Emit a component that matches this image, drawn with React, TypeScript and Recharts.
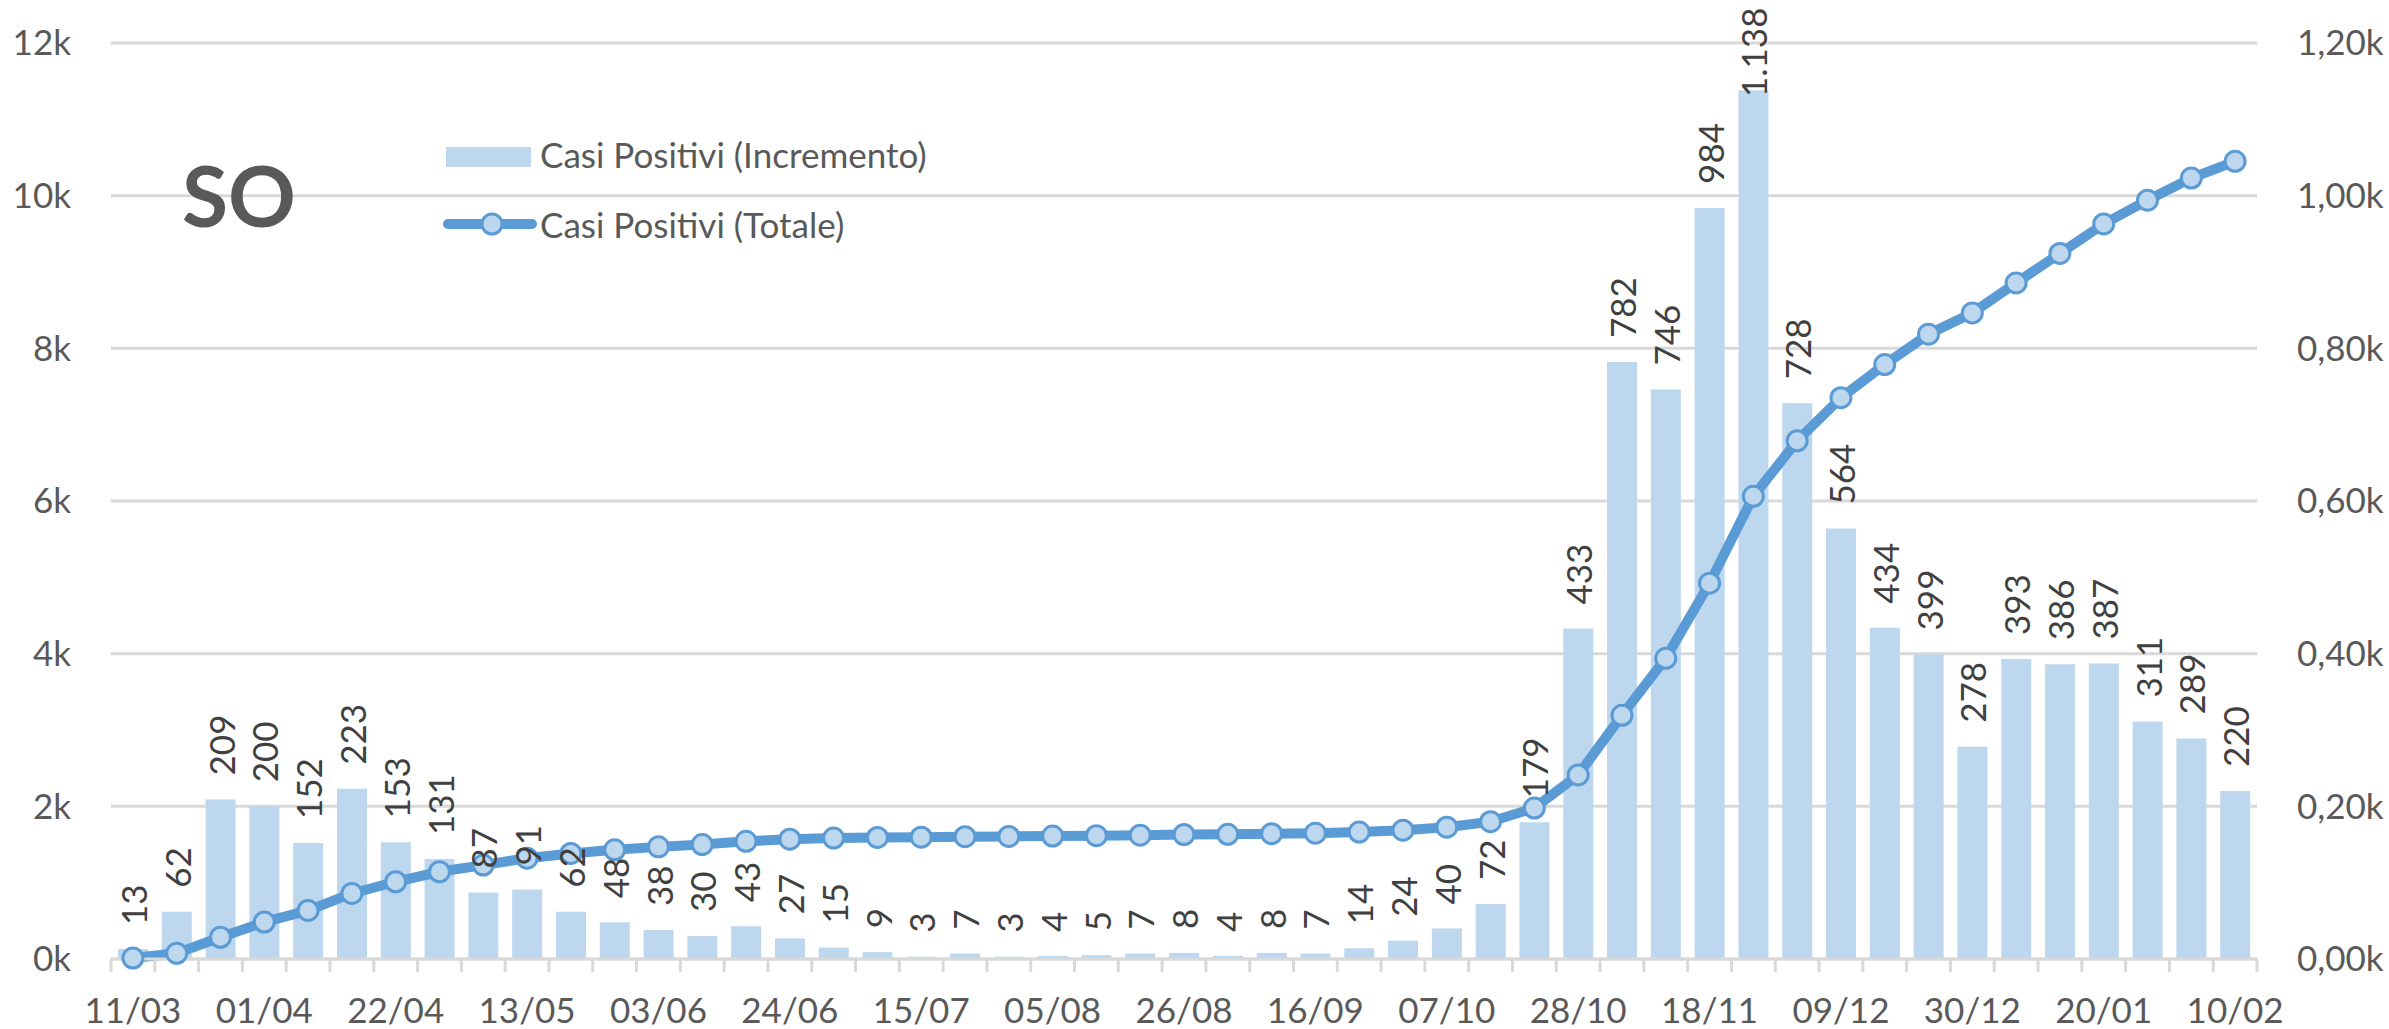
import React from 'react';
import { ComposedChart, Bar, Line, XAxis, YAxis, CartesianGrid, LabelList, Legend } from 'recharts';

// weekly points, 11/03 -> 10/02
const weeks = [
  '11/03', '18/03', '25/03', '01/04', '08/04', '15/04', '22/04', '29/04', '06/05', '13/05',
  '20/05', '27/05', '03/06', '10/06', '17/06', '24/06', '01/07', '08/07', '15/07', '22/07',
  '29/07', '05/08', '12/08', '19/08', '26/08', '02/09', '09/09', '16/09', '23/09', '30/09',
  '07/10', '14/10', '21/10', '28/10', '04/11', '11/11', '18/11', '25/11', '02/12', '09/12',
  '16/12', '23/12', '30/12', '06/01', '13/01', '20/01', '27/01', '03/02', '10/02',
];

const increments = [
  13, 62, 209, 200, 152, 223, 153, 131, 87, 91,
  62, 48, 38, 30, 43, 27, 15, 9, 3, 7,
  3, 4, 5, 7, 8, 4, 8, 7, 14, 24,
  40, 72, 179, 433, 782, 746, 984, 1138, 728, 564,
  434, 399, 278, 393, 386, 387, 311, 289, 220,
];

const totals = [
  13, 75, 284, 484, 636, 859, 1012, 1143, 1230, 1321,
  1383, 1431, 1469, 1499, 1542, 1569, 1584, 1593, 1596, 1603,
  1606, 1610, 1615, 1622, 1630, 1634, 1642, 1649, 1663, 1687,
  1727, 1799, 1978, 2411, 3193, 3939, 4923, 6061, 6789, 7353,
  7787, 8186, 8464, 8857, 9243, 9630, 9941, 10230, 10450,
];

const leftTicks = [0, 2000, 4000, 6000, 8000, 10000, 12000];
const rightTicks = [0, 200, 400, 600, 800, 1000, 1200];

const W = 2389;
const H = 1029;
const PLOT_LEFT = 111;
const PLOT_RIGHT = 2257;
const PLOT_TOP = 43;
const BAND = (PLOT_RIGHT - PLOT_LEFT) / weeks.length;

const FONT = 'Lato, "Open Sans", sans-serif';
const GREY = '#d9d9d9';
const TEXT = '#595959';
const BAR = '#bdd7ee';
const LINE = '#5b9bd5';

const data = weeks.map((w, i) => ({ week: w, inc: increments[i], tot: totals[i] }));

const dots = (v: number) => String(v).replace(/\B(?=(\d{3})+(?!\d))/g, '.');

function BarLabel(props: any) {
  const { x, y, width, value } = props;
  const text = dots(value);
  const cx = x + width / 2;
  // keep the tallest label inside the chart, like Excel does
  const base = Math.max(y - 24, 12 + text.length * 17);
  return (
    <text
      x={cx}
      y={base}
      transform={`rotate(-90 ${cx} ${base})`}
      textAnchor="start"
      dominantBaseline="central"
      fontSize={35}
      fontFamily={FONT}
      fill="#404040"
    >
      {text}
    </text>
  );
}

function WeekTick(props: any) {
  const { x, y, payload, index } = props;
  const left = x - BAND / 2;
  const last = index === weeks.length - 1;
  return (
    <g>
      <line x1={left} y1={y} x2={left} y2={y + 13} stroke={GREY} strokeWidth={3} />
      {last && <line x1={x + BAND / 2} y1={y} x2={x + BAND / 2} y2={y + 13} stroke={GREY} strokeWidth={3} />}
      {index % 3 === 0 && (
        <text x={x} y={y + 64} textAnchor="middle" fontSize={35} fontFamily={FONT} fill={TEXT}>
          {payload.value}
        </text>
      )}
    </g>
  );
}

function LegendBox() {
  const row: React.CSSProperties = { display: 'flex', alignItems: 'center', height: 70 };
  return (
    <div style={{ fontFamily: FONT, fontSize: 35, color: TEXT, whiteSpace: 'nowrap' }}>
      <div style={row}>
        <svg width={97} height={70}>
          <rect x={3} y={28} width={85} height={20} fill={BAR} />
        </svg>
        <span>Casi Positivi (Incremento)</span>
      </div>
      <div style={row}>
        <svg width={97} height={70}>
          <line x1={5} y1={35} x2={89} y2={35} stroke={LINE} strokeWidth={10} strokeLinecap="round" />
          <circle cx={49} cy={35} r={10} fill={BAR} stroke={LINE} strokeWidth={3} />
        </svg>
        <span>Casi Positivi (Totale)</span>
      </div>
    </div>
  );
}

export default function App() {
  return (
    <div style={{ position: 'absolute', left: 0, top: 0, width: W, height: H, background: '#fff' }}>
      <ComposedChart
        width={W}
        height={H}
        data={data}
        margin={{ top: PLOT_TOP, right: 0, bottom: 0, left: 0 }}
        barCategoryGap="16%"
      >
        <CartesianGrid yAxisId="left" vertical={false} stroke={GREY} strokeWidth={3} />
        <XAxis
          dataKey="week"
          height={70}
          interval={0}
          tickLine={false}
          tickSize={0}
          tickMargin={0}
          axisLine={{ stroke: GREY, strokeWidth: 3 }}
          tick={<WeekTick />}
        />
        <YAxis
          yAxisId="left"
          domain={[0, 12000]}
          ticks={leftTicks}
          width={PLOT_LEFT}
          axisLine={false}
          tickLine={false}
          tickSize={0}
          tickMargin={40}
          tick={{ fill: TEXT, fontSize: 35, fontFamily: FONT }}
          tickFormatter={(v: number) => `${v / 1000}k`}
        />
        <YAxis
          yAxisId="right"
          orientation="right"
          domain={[0, 1200]}
          ticks={rightTicks}
          width={W - PLOT_RIGHT}
          axisLine={false}
          tickLine={false}
          tickSize={0}
          tickMargin={40}
          tick={{ fill: TEXT, fontSize: 35, fontFamily: FONT }}
          tickFormatter={(v: number) => `${(v / 1000).toFixed(2).replace('.', ',')}k`}
        />
        <Bar dataKey="inc" yAxisId="right" fill={BAR} isAnimationActive={false}>
          <LabelList dataKey="inc" content={BarLabel} />
        </Bar>
        <Line
          dataKey="tot"
          yAxisId="left"
          type="linear"
          stroke={LINE}
          strokeWidth={10}
          dot={{ r: 10, fill: BAR, stroke: LINE, strokeWidth: 3 }}
          activeDot={false}
          isAnimationActive={false}
        />
        <Legend
          layout="vertical"
          align="center"
          verticalAlign="middle"
          wrapperStyle={{ left: 443, top: 119, width: 620 }}
          content={LegendBox}
        />
      </ComposedChart>
      <svg width={W} height={H} style={{ position: 'absolute', left: 0, top: 0, pointerEvents: 'none' }}>
        <text x={182} y={227} fontSize={84} fontWeight={700} fontFamily={FONT} fill={TEXT}>
          SO
        </text>
      </svg>
    </div>
  );
}
